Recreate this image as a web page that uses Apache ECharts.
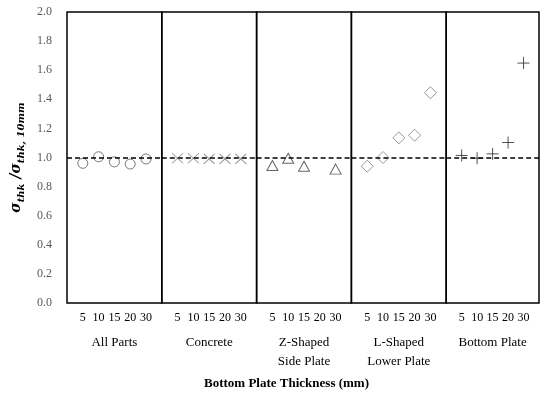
<!DOCTYPE html>
<html>
<head>
<meta charset="utf-8">
<script src="https://cdn.jsdelivr.net/npm/echarts@6/dist/echarts.min.js"></script>
<style>
  html, body { margin: 0; padding: 0; background: #fff; }
  #main { width: 542px; height: 395px; }
</style>
</head>
<body>
<div id="main"></div>
<script>
// thickness categories (mm) and the five part groups
const thickness = [5, 10, 15, 20, 30];
const groups = ['All Parts', 'Concrete', 'Z-Shaped\nSide Plate', 'L-Shaped\nLower Plate', 'Bottom Plate'];

// stress ratio sigma_thk / sigma_thk,10mm
const allParts = [0.96, 1.005, 0.97, 0.955, 0.99];
const concrete = [0.995, 0.995, 0.99, 0.99, 0.99];
const zShaped = [0.945, 0.995, 0.94, null, 0.92];
const lShaped = [0.94, 1.0, 1.135, 1.153, 1.445];
const bottomPlate = [1.014, 0.995, 1.025, 1.103, 1.649];
const refLine = 1.0;

const yMin = 0, yMax = 2, yStep = 0.2;

const markers = [
  { data: allParts, symbol: 'circle', size: 10, color: '#595959' },
  { data: concrete, symbol: 'path://M0,0L10,10M10,0L0,10', size: [11, 10], color: '#7f7f7f' },
  { data: zShaped, symbol: 'triangle', size: [11, 10], color: '#404040' },
  { data: lShaped, symbol: 'path://M0,-1L1,0L0,1L-1,0Z', size: 12, color: '#7f7f7f' },
  { data: bottomPlate, symbol: 'path://M-1,0L1,0M0,-1L0,1', size: 12, color: '#262626' }
];

var myChart = echarts.init(document.getElementById('main'));

const font = '"Liberation Serif", "Times New Roman", serif';
const plotLeft = 67, plotRight = 541, plotTop = 12, plotBottom = 303;
const panelW = (plotRight - plotLeft) / groups.length;

const grids = [], xAxes = [], yAxes = [], series = [];
groups.forEach((g, i) => {
  grids.push({
    left: plotLeft + i * panelW,
    width: panelW,
    top: plotTop,
    height: plotBottom - plotTop,
    show: true,
    borderColor: '#000',
    borderWidth: 1.5,
    backgroundColor: 'transparent'
  });
  xAxes.push({
    type: 'value',
    gridIndex: i,
    min: 0,
    max: thickness.length + 1,
    interval: 1,
    axisLine: { show: false },
    axisTick: { show: false },
    splitLine: { show: false },
    axisLabel: {
      margin: 9,
      color: '#000',
      fontFamily: font,
      fontSize: 12,
      formatter: v => (v >= 1 && v <= thickness.length) ? String(thickness[v - 1]) : ''
    },
    name: g,
    nameLocation: 'middle',
    nameGap: 30,
    nameTextStyle: {
      color: '#000',
      fontFamily: font,
      fontSize: 13,
      lineHeight: 19,
      verticalAlign: 'top'
    }
  });
  yAxes.push({
    type: 'value',
    gridIndex: i,
    min: yMin,
    max: yMax,
    interval: yStep,
    axisLine: { show: false },
    axisTick: { show: false },
    splitLine: { show: false },
    axisLabel: {
      show: i === 0,
      margin: 15,
      color: '#595959',
      fontFamily: font,
      fontSize: 12,
      formatter: v => v.toFixed(1)
    },
    name: i === 0 ? '{s|σ}{b|thk}{s| /σ}{b|thk, 10mm}' : '',
    nameLocation: 'middle',
    nameRotate: 90,
    nameGap: 41,
    nameTextStyle: {
      rich: {
        s: { fontFamily: '"DejaVu Serif", serif', fontSize: 14, fontWeight: 'bold', fontStyle: 'italic', color: '#000', lineHeight: 20, verticalAlign: 'middle' },
        b: { fontFamily: '"DejaVu Serif", serif', fontSize: 10, fontWeight: 'bold', fontStyle: 'italic', color: '#000', lineHeight: 20, verticalAlign: 'bottom', padding: [6, 0, 0, 0] }
      }
    }
  });
  const m = markers[i];
  series.push({
    type: 'scatter',
    xAxisIndex: i,
    yAxisIndex: i,
    symbol: m.symbol,
    symbolSize: m.size,
    itemStyle: { color: 'rgba(255,255,255,0)', borderColor: m.color, borderWidth: 1 },
    data: m.data.map((v, k) => [k + 1, v]).filter(d => d[1] !== null),
    markLine: {
      silent: true,
      symbol: 'none',
      label: { show: false },
      lineStyle: { color: '#000', type: [5, 3], width: 1.5 },
      data: [{ yAxis: refLine }]
    },
    z: 3
  });
});

const option = {
  animation: false,
  backgroundColor: '#fff',
  grid: grids,
  xAxis: xAxes,
  yAxis: yAxes,
  series: series,
  graphic: [{
    type: 'text',
    left: (plotLeft + plotRight) / 2 - 100,
    top: 377,
    style: {
      text: 'Bottom Plate Thickness (mm)',
      width: 200,
      align: 'center',
      fontFamily: font,
      fontSize: 13,
      fontWeight: 'bold',
      fill: '#000'
    }
  }]
};
myChart.setOption(option);
</script>
</body>
</html>
